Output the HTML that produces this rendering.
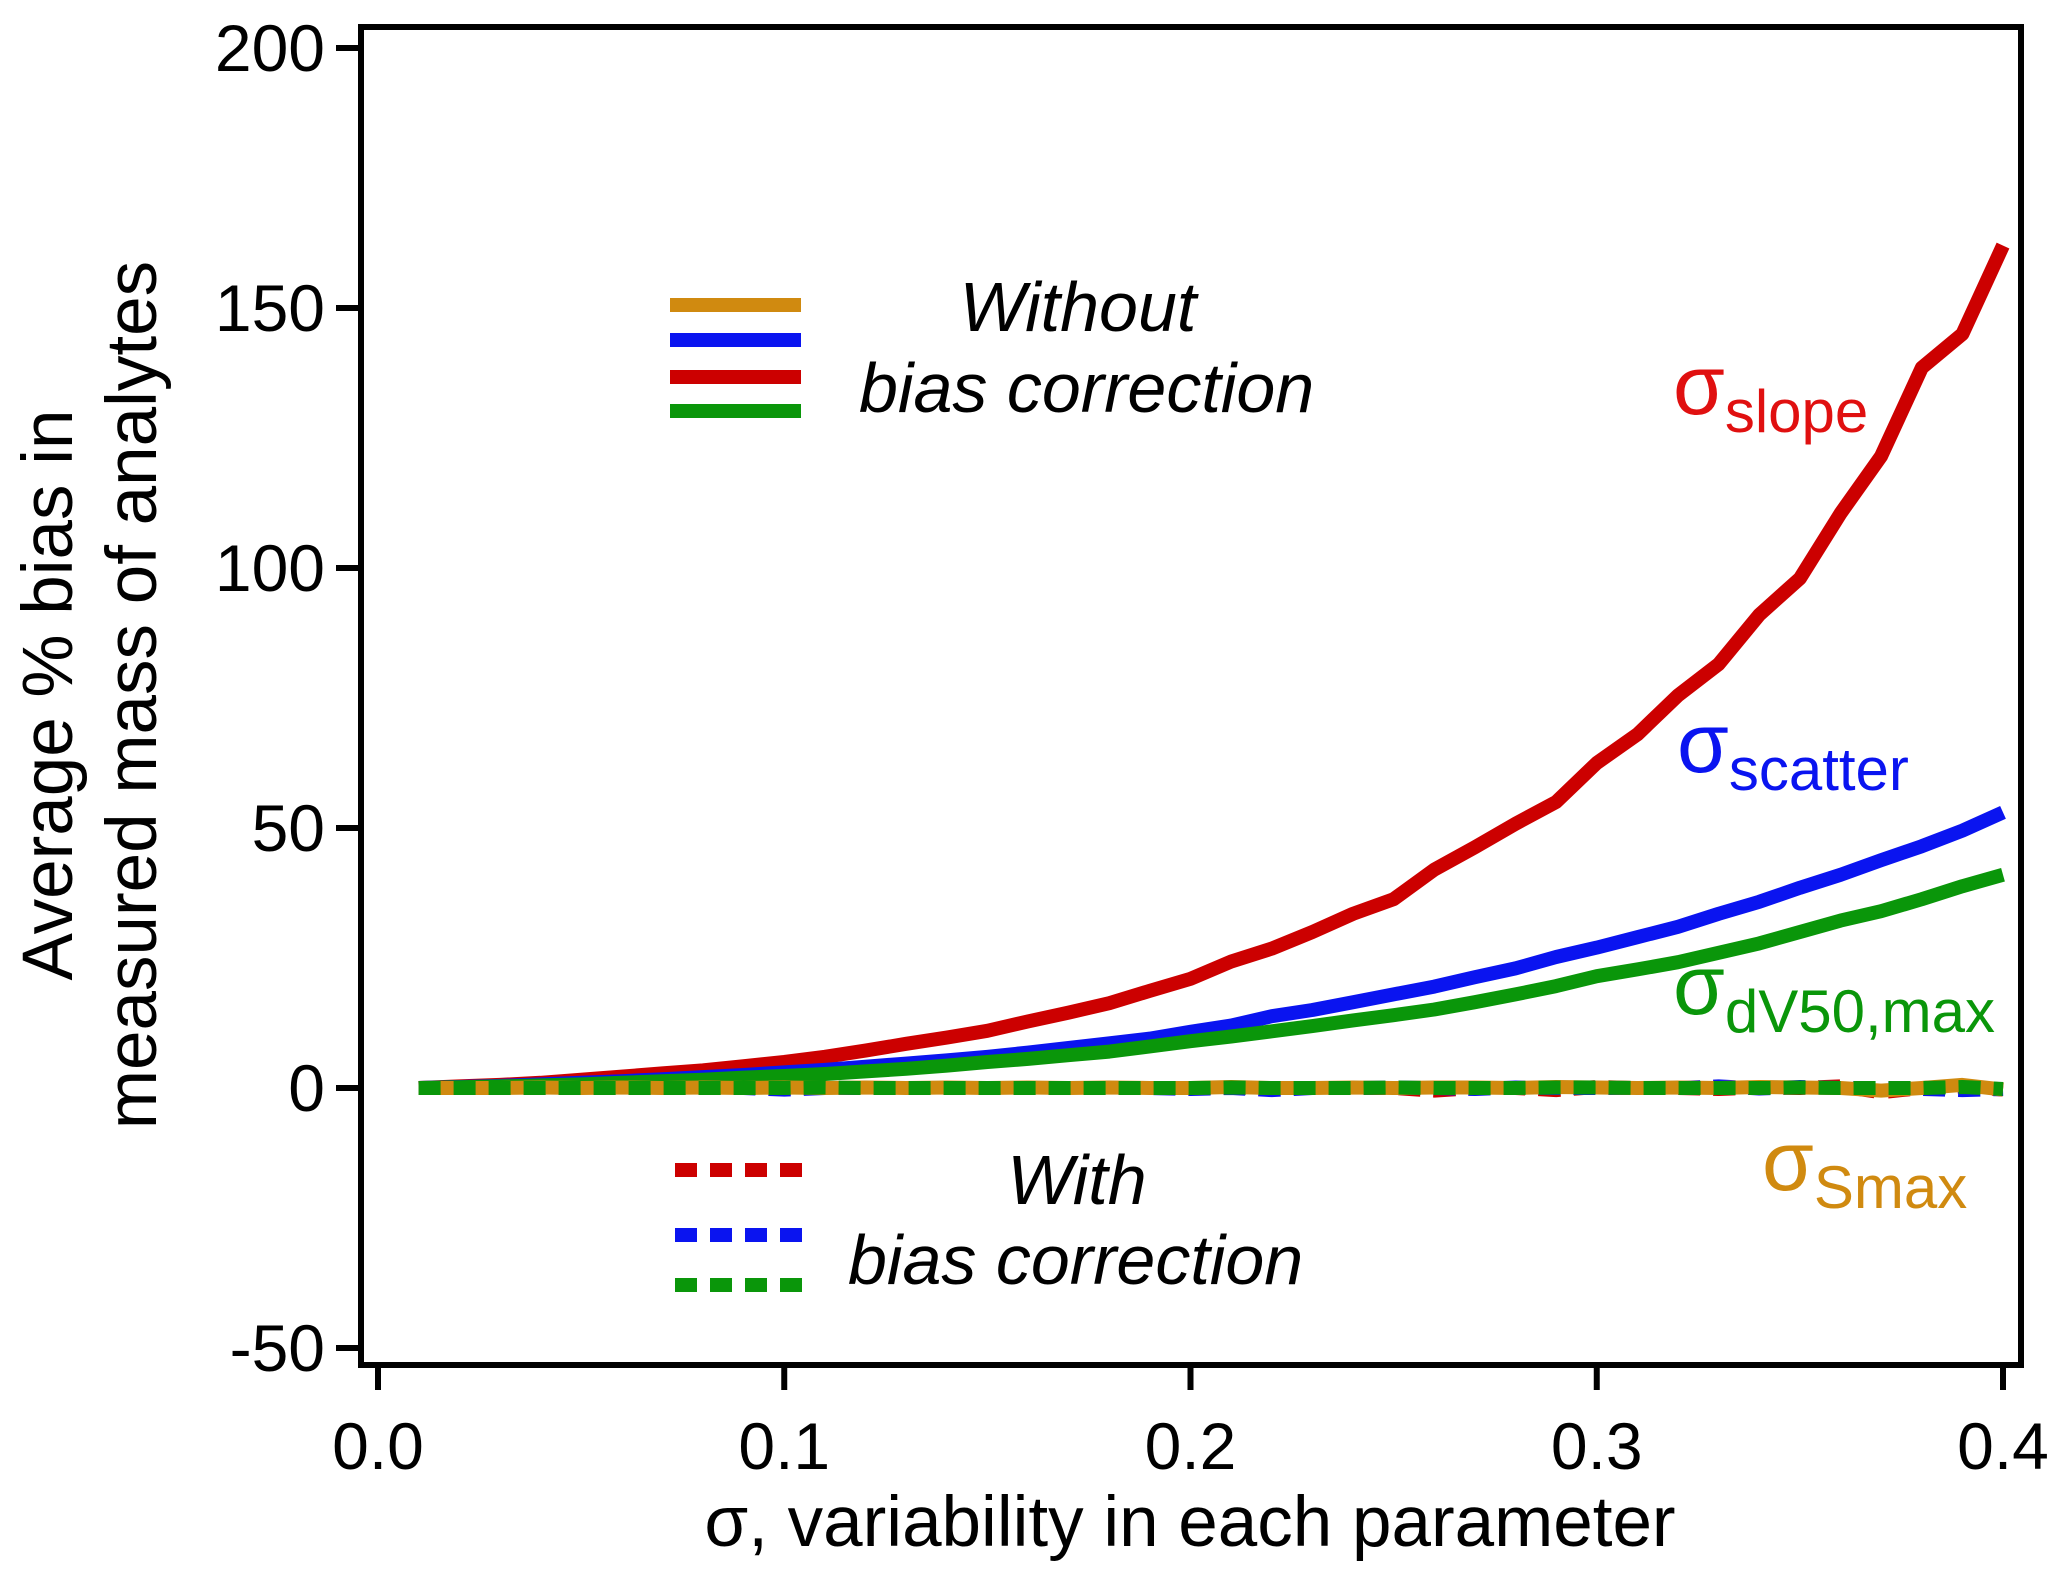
<!DOCTYPE html>
<html><head><meta charset="utf-8"><style>
html,body{margin:0;padding:0;background:#fff;}
svg{display:block;font-family:"Liberation Sans",Arial,sans-serif;}
</style></head><body>
<svg id="chart" width="2067" height="1580" viewBox="0 0 2067 1580" xmlns="http://www.w3.org/2000/svg">
<g id="axes"></g><g id="series"></g><g id="labels"></g>
</svg>
<script>
const xs=[0.01,0.02,0.03,0.04,0.05,0.06,0.07,0.08,0.09,0.10,0.11,0.12,0.13,0.14,0.15,0.16,0.17,0.18,0.19,0.20,0.21,0.22,0.23,0.24,0.25,0.26,0.27,0.28,0.29,0.30,0.31,0.32,0.33,0.34,0.35,0.36,0.37,0.38,0.39,0.40];
const slopeVals=[0,0.3,0.6,1,1.6,2.2,2.8,3.4,4.2,5,6,7.2,8.5,9.7,11,12.8,14.5,16.3,18.7,21,24.3,26.8,30,33.5,36.3,42,46.3,50.8,55,62.5,68,75.5,81.5,91,98,110.5,121.5,138.5,145,162];
const scatterVals=[0,0.2,0.4,0.7,1,1.3,1.7,2.1,2.5,3,3.5,4.1,4.7,5.3,6,6.8,7.7,8.6,9.5,10.8,12,13.8,15,16.5,18,19.5,21.3,23,25.2,27,29,31,33.5,35.8,38.5,41,43.8,46.5,49.5,53];
const dv50Vals=[0,0.15,0.3,0.5,0.7,1,1.3,1.6,2,2.3,2.7,3.2,3.7,4.3,5,5.6,6.3,7,8,9,9.9,10.9,11.9,13,14,15.1,16.5,18,19.6,21.5,22.8,24.2,26,27.8,30,32.2,34,36.3,38.8,41];
const smaxVals=[0,0,0,0.1,0,0.1,0,0.1,0,0.1,0,0.1,0,0.1,0,0.1,0,0.1,0,0,0.2,0,0,0.1,0,0.1,0.1,0,0.2,0.1,0,0.1,0,0.2,0.1,0,-0.5,0,0.6,-0.3];
const slopeCorr=[0,0,0,0,0,0,0,0,0,0,0,0,0,0,0,0,0,0,0,0,0,0,0,0,0,-0.5,0,0,-0.4,0.2,0,0,-0.2,0.1,0,0.3,-0.8,0,0.3,-0.3];
const scatterCorr=[0,0,0,0,0,0,0,0,0,-0.3,0,0,0,0,0,0,0,0,0,-0.2,0,-0.4,0,0,0.1,0,-0.2,0.1,0,0,0,0,0.3,-0.1,0.2,0,0,-0.2,-0.4,-0.2];
const dv50Corr=[0,0,0,0,0,0,0,0,0,0,0.1,0,0,0,0,0,0,0,0,0,0.1,0,0,0,0.1,0,0,0,0.1,0.1,0,0,0,0,0.1,0,0,0,0.2,-0.2];
const yTicks=[-50,0,50,100,150,200];
const xTicks=[0.0,0.1,0.2,0.3,0.4];
const X=v=>378+v*4062.5;
const Y=v=>1088-v*5.2;
const NS="http://www.w3.org/2000/svg";
function mk(tag,attrs,parent,text){const e=document.createElementNS(NS,tag);for(const k in attrs)e.setAttribute(k,attrs[k]);if(text!==undefined)e.textContent=text;parent.appendChild(e);return e;}
const axes=document.getElementById('axes'),series=document.getElementById('series'),labels=document.getElementById('labels');
const box=mk('rect',{x:361,y:27,width:1660,height:1338,fill:'none',stroke:'#000','stroke-width':6},axes);


yTicks.forEach(t=>{
 const l=mk('line',{x1:336,x2:361,y1:Y(t),y2:Y(t),stroke:'#000','stroke-width':6},axes);
 
 
 const tx=mk('text',{x:325,y:Y(t)+23,'text-anchor':'end','font-size':66},axes,String(t));
 
 
});
xTicks.forEach(t=>{
 const l=mk('line',{x1:X(t),x2:X(t),y1:1365,y2:1390,stroke:'#000','stroke-width':6},axes);
 
 
 const tx=mk('text',{x:X(t),y:1469,'text-anchor':'middle','font-size':66},axes,t.toFixed(1));
 
 
});
const xt=mk('text',{x:1190,y:1546,'text-anchor':'middle','font-size':71},labels,'σ, variability in each parameter');


const yt=mk('text',{transform:'translate(72,695) rotate(-90)','text-anchor':'middle','font-size':71},labels);


mk('tspan',{x:0,y:0},yt,'Average % bias in');
mk('tspan',{x:0,y:84},yt,'measured mass of analytes');
function line(vals,color,dash,name){
 const d=vals.map((v,i)=>(i?'L':'M')+X(xs[i]).toFixed(1)+','+Y(v).toFixed(1)).join('');
 const a={d:d,fill:'none',stroke:color,'stroke-width':14,'stroke-linejoin':'round'};
 if(dash)a['stroke-dasharray']='22 13';
 const p=mk('path',a,series);
 
 
}
line(slopeVals,'#cc0000',false,'slope-line');
line(scatterVals,'#0a14f0',false,'scatter-line');
line(dv50Vals,'#0a960a',false,'dv50-line');
line(slopeCorr,'#cc0000',true,'slope-corrected-line');
line(scatterCorr,'#0a14f0',true,'scatter-corrected-line');
line(smaxVals,'#d08a10',false,'smax-line');
line(dv50Corr,'#0a960a',true,'dv50-corrected-line');
[['#d08a10',305],['#0a14f0',340],['#cc0000',377],['#0a960a',411]].forEach(c=>{
 const l=mk('line',{x1:670,x2:801,y1:c[1],y2:c[1],stroke:c[0],'stroke-width':14},labels);
 
 
});
[['#cc0000',1170],['#0a14f0',1235],['#0a960a',1285]].forEach(c=>{
 const l=mk('line',{x1:675,x2:807,y1:c[1],y2:c[1],stroke:c[0],'stroke-width':14,'stroke-dasharray':'22 13'},labels);
 
 
});
function txt(x,y,s,size,anchor,name,color){
 const t=mk('text',{x:x,y:y,'font-size':size,'font-style':'italic','text-anchor':anchor,fill:color||'#000'},labels,s);
 
 
}
txt(1078,331,'Without',70,'middle','legend-without-title');
txt(859,412,'bias correction',70,'start','legend-without-subtitle');
txt(1077,1204,'With',70,'middle','legend-with-title');
txt(848,1284,'bias correction',70,'start','legend-with-subtitle');
function sig(x,y,sub,color,name){
 const t=mk('text',{x:x,y:y,fill:color,'font-size':84},labels);
 
 
 mk('tspan',{},t,'σ');
 mk('tspan',{dy:18,'font-size':60},t,sub);
}
sig(1673,414,'slope','#e01010','sigma-slope-label');
sig(1677,772,'scatter','#0a14f0','sigma-scatter-label');
sig(1673,1014,'dV50,max','#0a960a','sigma-dv50-label');
sig(1762,1190,'Smax','#d08a10','sigma-smax-label');
</script>
</body></html>
